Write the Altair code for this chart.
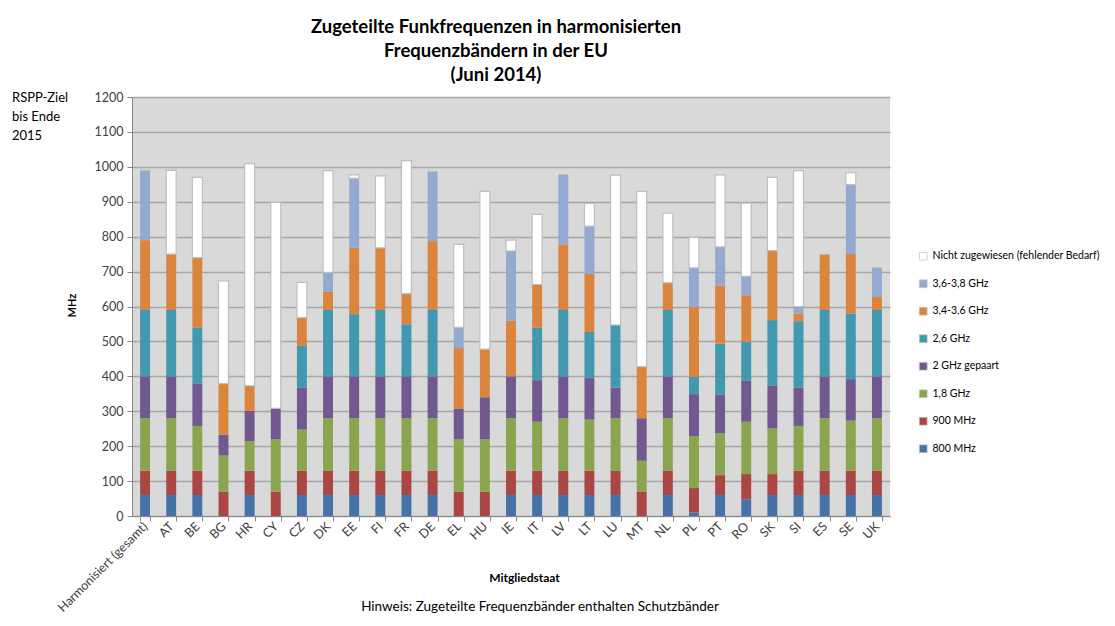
import altair as alt
import pandas as pd

countries = ["Harmonisiert (gesamt)", "AT", "BE", "BG", "HR", "CY", "CZ", "DK", "EE", "FI",
             "FR", "DE", "EL", "HU", "IE", "IT", "LV", "LT", "LU", "MT", "NL", "PL", "PT",
             "RO", "SK", "SI", "ES", "SE", "UK"]

mhz800 = [60, 60, 60, 0, 60, 0, 60, 60, 60, 60, 60, 60, 0, 0, 60, 60, 60, 60, 60, 0, 60, 10, 60, 48, 60, 60, 60, 60, 60]
mhz900 = [70, 70, 70, 70, 70, 70, 70, 70, 70, 70, 70, 70, 70, 70, 70, 70, 70, 70, 70, 70, 70, 70, 57, 72, 60, 70, 70, 70, 70]
ghz18 = [150, 150, 128, 103, 84, 150, 118, 150, 150, 150, 150, 150, 150, 150, 150, 140, 150, 146, 150, 88, 150, 149, 120, 150, 131, 128, 150, 143, 150]
ghz2 = [120, 120, 122, 60, 87, 88, 120, 120, 120, 120, 120, 120, 88, 120, 120, 119, 120, 119, 88, 122, 120, 120, 110, 117, 123, 110, 120, 119, 120]
ghz26 = [190, 190, 160, 0, 0, 0, 119, 190, 178, 190, 149, 190, 0, 0, 0, 150, 190, 132, 179, 0, 190, 50, 147, 112, 187, 190, 190, 188, 190]
ghz34 = [200, 160, 200, 146, 72, 0, 81, 53, 190, 178, 88, 197, 173, 138, 159, 124, 188, 166, 0, 148, 78, 200, 166, 133, 199, 22, 159, 170, 37]
ghz36 = [200, 0, 0, 0, 0, 0, 0, 55, 199, 0, 0, 200, 59, 0, 200, 0, 200, 137, 0, 0, 0, 112, 111, 54, 0, 20, 0, 199, 84]
nicht = [0, 240, 230, 294, 636, 590, 101, 291, 10, 206, 381, 0, 238, 452, 31, 201, 0, 65, 429, 502, 199, 87, 206, 210, 210, 389, 0, 34, 0]

series_names = ["800 MHz", "900 MHz", "1,8 GHz", "2 GHz gepaart", "2,6 GHz",
                "3,4-3,6 GHz", "3,6-3,8 GHz", "Nicht zugewiesen (fehlender Bedarf)"]
series_values = [mhz800, mhz900, ghz18, ghz2, ghz26, ghz34, ghz36, nicht]
series_colors = ["#4572a7", "#aa4643", "#89a54e", "#71588f", "#4198af",
                 "#db843d", "#93a9cf", "#ffffff"]

rows = []
for si, (name, vals) in enumerate(zip(series_names, series_values)):
    for c, v in zip(countries, vals):
        rows.append({"Land": c, "Band": name, "MHz": v, "idx": si})
df = pd.DataFrame(rows)

FONT = "Lato"
legend_order = list(reversed(series_names))
legend_colors = list(reversed(series_colors))

bars = alt.Chart(df).mark_bar(strokeWidth=1.2).encode(
    x=alt.X("Land:N", sort=countries,
            scale=alt.Scale(paddingInner=0.62, paddingOuter=0.31),
            axis=alt.Axis(title="Mitgliedstaat", labelAngle=-45, labelAlign="right",
                          labelBaseline="middle", labelFontSize=12.5, labelColor="#404040",
                          labelPadding=3, tickBand="extent", tickSize=5, tickColor="#888888",
                          domainColor="#888888", titleFontSize=12, titleFontWeight="bold",
                          titleX=392, titleY=61, titleAlign="center", titleBaseline="middle",
                          titleColor="#000000")),
    y=alt.Y("MHz:Q", stack="zero",
            scale=alt.Scale(domain=[0, 1200], nice=False),
            axis=alt.Axis(title="MHz", values=list(range(0, 1201, 100)), format="d",
                          labelFontSize=12.5, labelPadding=4,
                          labelColor="#404040", tickSize=5, tickColor="#888888",
                          domainColor="#888888", gridColor="#a6a6a6", gridWidth=1.5,
                          titleFontSize=11, titleFontWeight="bold", titleX=-60, titleY=208,
                          titleAlign="center", titleBaseline="middle", titleColor="#000000")),
    color=alt.Color("Band:N",
                    scale=alt.Scale(domain=legend_order, range=legend_colors),
                    legend=alt.Legend(title=None, orient="none", legendX=786, legendY=154,
                                      symbolType="square", symbolSize=60, labelFontSize=10.5,
                                      labelColor="#000000", rowPadding=15.5,
                                      symbolStrokeColor="#bfbfbf", symbolStrokeWidth=0.7,
                                      labelLimit=300, labelOffset=4)),
    stroke=alt.condition(alt.datum.Band == "Nicht zugewiesen (fehlender Bedarf)",
                         alt.value("#bfbfbf"), alt.value("transparent")),
    order=alt.Order("idx:Q", sort="ascending"),
)

rspp = alt.Chart(pd.DataFrame({"t": ["RSPP-Ziel\nbis Ende\n2015"]})).mark_text(
    align="left", baseline="top", fontSize=13, font=FONT, lineBreak="\n", lineHeight=19,
    color="#000000"
).encode(x=alt.value(-120), y=alt.value(-5), text="t:N")

hinweis = alt.Chart(pd.DataFrame({"t": ["Hinweis: Zugeteilte Frequenzbänder enthalten Schutzbänder"]})).mark_text(
    align="center", baseline="middle", fontSize=13.5, font=FONT, color="#000000"
).encode(x=alt.value(408), y=alt.value(510), text="t:N")

chart = alt.layer(bars, rspp, hinweis).properties(
    width=758, height=419,
    padding={"left": 124, "top": 89, "right": 215, "bottom": 102},
    autosize=alt.AutoSizeParams(type="none"),
    title=alt.TitleParams(
        text=["Zugeteilte Funkfrequenzen in harmonisierten", "Frequenzbändern in der EU", "(Juni 2014)"],
        anchor="middle", fontSize=18.5, fontWeight="bold", font=FONT, lineHeight=24,
        dx=-15, offset=7, color="#000000"),
).configure(font=FONT).configure_view(fill="#d9d9d9", stroke=None)

chart.save("out.html", embed_options={"renderer": "svg", "actions": False})
